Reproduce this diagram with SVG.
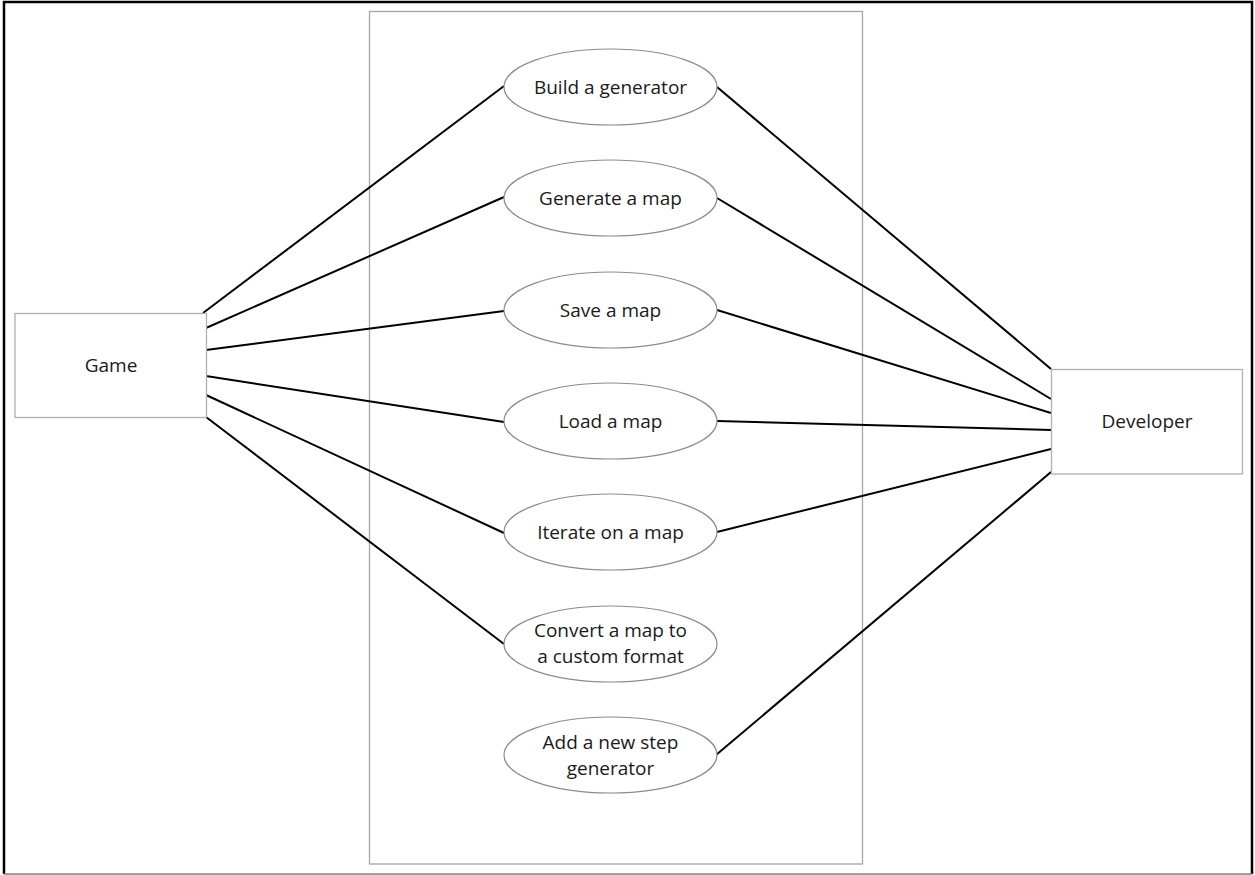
<svg xmlns="http://www.w3.org/2000/svg" width="1255" height="875" viewBox="0 0 1255 875">
  <style>
    .frame { fill: none; stroke: #000; stroke-width: 2.5; }
    .boundary { fill: none; stroke: #a6a6a6; stroke-width: 1.3; }
    .actor rect { fill: #fff; stroke: #b0b0b0; stroke-width: 1.3; }
    .usecase ellipse { fill: #fff; stroke: #8c8c8c; stroke-width: 1.2; }
    text { font-family: "Open Sans", "Liberation Sans", sans-serif; font-size: 19px; fill: #1a1a1a; text-anchor: middle; }
    .connectors line { stroke: #000; stroke-width: 2; }
  </style>
  <rect width="1255" height="875" fill="#fff"/>
  <!-- outer frame -->
  <path class="frame" d="M4,874 V2 H1252 V874"/>
  <line x1="4" y1="874" x2="1252" y2="874" stroke="#808080" stroke-width="1.5"/>
  <!-- system boundary -->
  <rect class="boundary" x="369.5" y="11.5" width="493" height="852.5"/>

  <g class="connectors">
    <line x1="203" y1="313" x2="504" y2="86"/>
    <line x1="206" y1="328" x2="504" y2="197"/>
    <line x1="206" y1="350" x2="504" y2="311"/>
    <line x1="206" y1="376" x2="504" y2="422"/>
    <line x1="206" y1="395" x2="504" y2="533"/>
    <line x1="206" y1="417" x2="504" y2="644"/>
    <line x1="717" y1="87" x2="1051" y2="369"/>
    <line x1="717" y1="198" x2="1051" y2="399"/>
    <line x1="717" y1="310" x2="1051" y2="413"/>
    <line x1="717" y1="421" x2="1051" y2="430"/>
    <line x1="717" y1="532" x2="1051" y2="449"/>
    <line x1="716" y1="755" x2="1051" y2="472"/>
  </g>

  <g id="game" class="actor">
    <rect x="15" y="313.5" width="191.5" height="104"/>
    <text x="111" y="372">Game</text>
  </g>
  <g id="developer" class="actor">
    <rect x="1051.5" y="369.5" width="191" height="104.5"/>
    <text x="1147" y="428">Developer</text>
  </g>

  <g id="build-generator" class="usecase">
    <ellipse cx="610.5" cy="87" rx="106.5" ry="38"/>
    <text x="610.5" y="93.5">Build a generator</text>
  </g>
  <g id="generate-map" class="usecase">
    <ellipse cx="610.5" cy="198" rx="106.5" ry="38"/>
    <text x="610.5" y="204.5">Generate a map</text>
  </g>
  <g id="save-map" class="usecase">
    <ellipse cx="610.5" cy="310" rx="106.5" ry="38"/>
    <text x="610.5" y="316.5">Save a map</text>
  </g>
  <g id="load-map" class="usecase">
    <ellipse cx="610.5" cy="421" rx="106.5" ry="38"/>
    <text x="610.5" y="427.5">Load a map</text>
  </g>
  <g id="iterate-map" class="usecase">
    <ellipse cx="610.5" cy="532" rx="106.5" ry="38"/>
    <text x="610.5" y="538.5">Iterate on a map</text>
  </g>
  <g id="convert-map" class="usecase">
    <ellipse cx="610.5" cy="644" rx="106.5" ry="38"/>
    <text x="610.5" y="637">Convert a map to</text>
    <text x="610.5" y="663">a custom format</text>
  </g>
  <g id="add-step-generator" class="usecase">
    <ellipse cx="610.5" cy="755" rx="106.5" ry="38"/>
    <text x="610.5" y="749">Add a new step</text>
    <text x="610.5" y="775">generator</text>
  </g>
</svg>
